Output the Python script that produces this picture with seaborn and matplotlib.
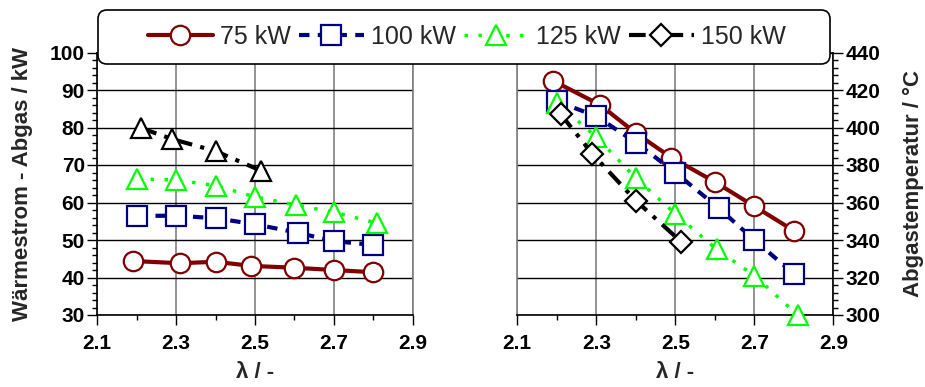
import matplotlib
matplotlib.use("Agg")
import matplotlib.pyplot as plt
from matplotlib.ticker import MultipleLocator, FixedLocator
from matplotlib.patches import FancyBboxPatch
import seaborn as sns
import pandas as pd

# ---------------- data ----------------
labels = ["75 kW", "100 kW", "125 kW", "150 kW"]
lam75 = [2.19, 2.31, 2.40, 2.49, 2.60, 2.70, 2.80]
lam100 = [2.20, 2.30, 2.40, 2.50, 2.61, 2.70, 2.80]
lam125 = [2.20, 2.30, 2.40, 2.50, 2.605, 2.70, 2.81]
lam150 = [2.21, 2.29, 2.40, 2.515]

# Waermestrom - Abgas / kW (left panel)
q75 = [44.4, 43.8, 44.2, 43.1, 42.6, 42.0, 41.4]
q100 = [56.4, 56.5, 55.8, 54.2, 51.9, 49.7, 48.7]
q125 = [66.3, 66.0, 64.5, 61.5, 59.3, 57.4, 54.5]
q150 = [79.9, 76.9, 73.7, 68.5]

# Abgastemperatur / degC (right panel)
t75 = [425, 412, 397, 384, 371, 358, 345]
t100 = [414, 406, 392, 376, 357, 340, 322]
t125 = [413, 395, 373, 354, 335, 321, 300]
t150 = [407, 386, 361, 339]

xticks = [2.1, 2.3, 2.5, 2.7, 2.9]
yticks_left = [30, 40, 50, 60, 70, 80, 90, 100]
yticks_right = [300, 320, 340, 360, 380, 400, 420, 440]

# ---------------- style ----------------
sns.set_style("ticks")
plt.rcParams["font.family"] = ["Liberation Sans", "DejaVu Sans"]
plt.rcParams["font.weight"] = "bold"
plt.rcParams["axes.labelweight"] = "bold"

W, H = 925, 387
fig = plt.figure(figsize=(W / 100, H / 100), dpi=100)
fig.patch.set_facecolor("white")

def rect(x0, x1, ytop, ybot):
    return [x0 / W, 1 - ybot / H, (x1 - x0) / W, (ybot - ytop) / H]

axL = fig.add_axes(rect(97.3, 412.7, 52.5, 315))
axR = fig.add_axes(rect(517.3, 833.3, 52.5, 315))

styles = [
    dict(color="#800000", marker="o", linestyle="-", lw=3.0, ms=14),
    dict(color="#000080", marker="s", linestyle=(0, (2.5, 2)), lw=3.0, ms=14),
    dict(color="#00FF00", marker="^", linestyle=(0, (1, 3)), lw=2.5, ms=14),
    dict(color="#000000", marker="D", linestyle=(0, (4, 2, 1, 2)), lw=3.0, ms=11),
]
lams = [lam75, lam100, lam125, lam150]
left_vals = [q75, q100, q125, q150]
right_vals = [t75, t100, t125, t150]

for i, (lab, lam, yv) in enumerate(zip(labels, lams, left_vals)):
    st = dict(styles[i])
    if lab == "150 kW":
        st["marker"] = "^"
        st["ms"] = 14
    df = pd.DataFrame({"x": lam, "y": yv})
    sns.lineplot(data=df, x="x", y="y", ax=axL, sort=False, estimator=None,
                 legend=False, markerfacecolor="white", markeredgecolor=st["color"],
                 markeredgewidth=1.6, clip_on=False, zorder=3 + i, **st)

for i, (lab, lam, yv) in enumerate(zip(labels, lams, right_vals)):
    st = dict(styles[i])
    df = pd.DataFrame({"x": lam, "y": yv})
    sns.lineplot(data=df, x="x", y="y", ax=axR, sort=False, estimator=None,
                 legend=False, markerfacecolor="white", markeredgecolor=st["color"],
                 markeredgewidth=1.6, clip_on=False, zorder=3 + i, label=lab, **st)

for ax, yt, ymin, ymax, minor in [(axL, yticks_left, 30, 100, 2),
                                  (axR, yticks_right, 300, 440, 4)]:
    ax.set_xlim(2.1, 2.9)
    ax.set_ylim(ymin, ymax)
    ax.xaxis.set_major_locator(FixedLocator(xticks))
    ax.xaxis.set_minor_locator(MultipleLocator(0.1))
    ax.yaxis.set_major_locator(FixedLocator(yt))
    ax.yaxis.set_minor_locator(MultipleLocator(minor))
    ax.set_xticklabels([f"{v:.1f}" for v in xticks])
    ax.set_axisbelow(True)
    ax.grid(axis="x", which="major", color="#808080", lw=1.2)
    ax.grid(axis="y", which="major", color="black", lw=1.0)
    ax.tick_params(axis="both", which="major", direction="out", length=7,
                   width=1, labelsize=15, colors="black")
    ax.tick_params(axis="both", which="minor", direction="out", length=3.5,
                   width=1, colors="black")
    ax.tick_params(axis="x", which="both", top=False, pad=7)
    ax.set_xlabel("λ / -", fontsize=16, fontweight="bold", labelpad=6)
    for sp in ax.spines.values():
        sp.set_linewidth(1.2)
        sp.set_color("black")

axL.tick_params(axis="y", which="both", left=True, right=False, pad=2)
axL.spines["right"].set_color("#808080")
axL.set_ylabel("Wärmestrom - Abgas / kW", fontsize=16, fontweight="bold", labelpad=12)

axR.yaxis.tick_right()
axR.yaxis.set_label_position("right")
axR.tick_params(axis="y", which="both", left=False, right=True, pad=2)
axR.spines["left"].set_color("#808080")
axR.set_ylabel("Abgastemperatur / °C", fontsize=16, fontweight="bold", labelpad=16)

# legend box covering the tops of both panels
box = FancyBboxPatch((98 / 100, (H - 64) / 100), 732 / 100, 54 / 100,
                     boxstyle="round,pad=0,rounding_size=0.09",
                     transform=fig.dpi_scale_trans, facecolor="white",
                     edgecolor="black", lw=1.2, zorder=3)
fig.patches.append(box)

handles = [l for l in axR.get_lines() if l.get_label() in labels]
fig.legend(handles, [h.get_label() for h in handles], loc="center",
           bbox_to_anchor=(467 / W, 1 - 37 / H), ncol=4, frameon=False,
           prop={"size": 18, "weight": "normal", "family": ["Liberation Sans", "DejaVu Sans"]},
           handlelength=2.6, handletextpad=0.3, columnspacing=0.3)

fig.savefig("out.png", dpi=100, facecolor="white")
